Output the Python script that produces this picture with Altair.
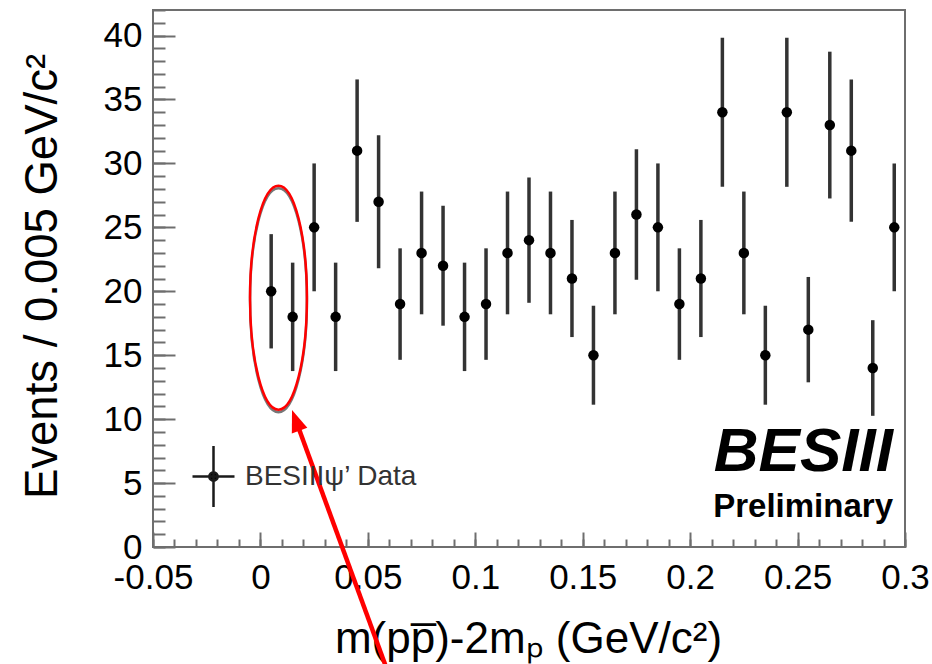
import altair as alt
import pandas as pd

# ---------------- data ----------------
bin_centers = [0.005, 0.015, 0.025, 0.035, 0.045, 0.055, 0.065, 0.075, 0.085, 0.095,
               0.105, 0.115, 0.125, 0.135, 0.145, 0.155, 0.165, 0.175, 0.185, 0.195,
               0.205, 0.215, 0.225, 0.235, 0.245, 0.255, 0.265, 0.275, 0.285, 0.295]
counts = [20, 18, 25, 18, 31, 27, 19, 23, 22, 18,
          19, 23, 24, 23, 21, 15, 23, 26, 25, 19,
          21, 34, 23, 15, 34, 17, 33, 31, 14, 25]
errors = [4.47, 4.24, 5.00, 4.24, 5.57, 5.20, 4.36, 4.80, 4.69, 4.24,
          4.36, 4.80, 4.90, 4.80, 4.58, 3.87, 4.80, 5.10, 5.00, 4.36,
          4.58, 5.83, 4.80, 3.87, 5.83, 4.12, 5.74, 5.57, 3.74, 5.00]
series_name = "BESIII\u03c8\u2019 Data"

x_major = [-0.05, 0, 0.05, 0.1, 0.15, 0.2, 0.25, 0.3]
x_minor = [round(-0.05 + 0.01 * i, 2) for i in range(36)]
y_major = [0, 5, 10, 15, 20, 25, 30, 35, 40]
y_minor = list(range(0, 43))

x_title = "m(pp\u0305)-2m\u209a (GeV/c\u00b2)"
y_title = "Events / 0.005 GeV/c\u00b2"
stamp_texts = ["BESIII"]
prelim_texts = ["Preliminary"]

# annotation anchors (data units)
ellipse_center = {"x": [0.0084], "y": [19.5]}
arrow_line = {"x": [0.0598], "y": [-10.0], "x2": [0.01646], "y2": [9.91]}
arrow_head = {"x": [0.01646], "y": [9.91]}

df = pd.DataFrame({
    "x": bin_centers,
    "y": counts,
    "lo": [c - e for c, e in zip(counts, errors)],
    "hi": [c + e for c, e in zip(counts, errors)],
    "series": [series_name] * len(counts),
})

FONT = "Liberation Sans"
FRAME = "#6e6e6e"

xs = alt.Scale(domain=[-0.05, 0.3], nice=False, zero=False)
ys = alt.Scale(domain=[0, 42], nice=False, zero=False)

base = alt.Chart(df)

# error bars + labelled axes
label_x_axis = alt.Axis(values=x_major, labelExpr="'' + datum.value", ticks=False, tickSize=0,
                        domain=False, grid=False, labelFont=FONT, labelFontSize=35,
                        labelColor="black", labelPadding=13, labelFlush=False,
                        labelOverlap=False, title=x_title, titleFont=FONT, titleFontSize=44,
                        titleFontWeight="normal", titleColor="black", titleX=375,
                        titleY=105, titleBaseline="alphabetic", orient="bottom")
label_y_axis = alt.Axis(values=y_major, ticks=False, tickSize=0, domain=False, grid=False,
                        labelFont=FONT, labelFontSize=35, labelColor="black",
                        labelPadding=11, labelFlush=False, labelOverlap=False,
                        title=y_title, titleFont=FONT, titleFontSize=45.5,
                        titleFontWeight="normal", titleColor="black", titleX=-87,
                        titleY=266, orient="left")

bars = base.mark_rule(strokeWidth=3.5, color="#333333").encode(
    x=alt.X("x:Q", scale=xs, axis=label_x_axis),
    y=alt.Y("lo:Q", scale=ys, axis=label_y_axis),
    y2="hi:Q",
)

def tick_axis(vals, size, orient):
    return alt.Axis(values=vals, labels=False, domain=False, grid=False, ticks=True,
                    tickSize=size, offset=-size, tickColor=FRAME, tickWidth=2,
                    title=None, orient=orient)

major_ticks = base.mark_point(opacity=0).encode(
    x=alt.X("x:Q", scale=xs, axis=tick_axis(x_major, 15, "bottom")),
    y=alt.Y("y:Q", scale=ys, axis=tick_axis(y_major, 22, "left")),
)
minor_ticks = base.mark_point(opacity=0).encode(
    x=alt.X("x:Q", scale=xs, axis=tick_axis(x_minor, 8, "bottom")),
    y=alt.Y("y:Q", scale=ys, axis=tick_axis(y_minor, 12, "left")),
)

legend_path = "M-1,0L1,0M0,-1.45L0,1.45M0.2,0A0.2,0.2 0 1,1 -0.2,0A0.2,0.2 0 1,1 0.2,0Z"
dots = base.mark_point(filled=True, size=110, opacity=1).encode(
    x=alt.X("x:Q", scale=xs, axis=None),
    y=alt.Y("y:Q", scale=ys, axis=None),
    color=alt.Color("series:N", scale=alt.Scale(domain=[series_name], range=["black"]),
                    legend=alt.Legend(title=None, orient="none", legendX=38, legendY=444,
                                      padding=0, symbolType=legend_path, symbolSize=1764,
                                      symbolStrokeColor="#1a1a1a", symbolStrokeWidth=2.5,
                                      symbolFillColor="#1a1a1a",
                                      labelFont=FONT, labelFontSize=28, labelColor="#333333",
                                      labelOffset=9, labelLimit=400)),
)

ell_df = pd.DataFrame(ellipse_center)
ellipse_path = "M0,-1A0.254,1 0 1,1 0,1A0.254,1 0 1,1 0,-1Z"
ell_grey = alt.Chart(ell_df).mark_point(shape=ellipse_path, size=50176, filled=False,
                                        stroke="#777777", strokeWidth=2.5, yOffset=2.5,
                                        opacity=1).encode(
    x=alt.X("x:Q", scale=xs, axis=None), y=alt.Y("y:Q", scale=ys, axis=None))
ell_red = alt.Chart(ell_df).mark_point(shape=ellipse_path, size=50176, filled=False,
                                       stroke="#ff0000", strokeWidth=2.5, opacity=1).encode(
    x=alt.X("x:Q", scale=xs, axis=None), y=alt.Y("y:Q", scale=ys, axis=None))

arrow = alt.Chart(pd.DataFrame(arrow_line)).mark_rule(color="#ff0000", strokeWidth=4.5).encode(
    x=alt.X("x:Q", scale=xs, axis=None), y=alt.Y("y:Q", scale=ys, axis=None),
    x2="x2:Q", y2="y2:Q")
head = alt.Chart(pd.DataFrame(arrow_head)).mark_point(
    shape="M0,-1L-0.75,1L0.75,1Z", size=484, filled=True, color="#ff0000",
    angle=339.9, opacity=1).encode(
    x=alt.X("x:Q", scale=xs, axis=None), y=alt.Y("y:Q", scale=ys, axis=None))

stamp = alt.Chart(pd.DataFrame({"t": stamp_texts})).mark_text(
    font=FONT, fontSize=62, fontWeight="bold", fontStyle="italic", align="right",
    baseline="alphabetic", color="black").encode(
    text="t:N", x=alt.value(740), y=alt.value(461))
prelim = alt.Chart(pd.DataFrame({"t": prelim_texts})).mark_text(
    font=FONT, fontSize=33, fontWeight="bold", align="right",
    baseline="alphabetic", color="black").encode(
    text="t:N", x=alt.value(740), y=alt.value(507))

chart = alt.layer(
    bars, major_ticks, minor_ticks, dots, ell_grey, ell_red, arrow, head, stamp, prelim
).resolve_axis(x="independent", y="independent").properties(
    width=752, height=537,
    autosize=alt.AutoSizeParams(type="none"),
    padding={"left": 153, "top": 10, "right": 27, "bottom": 117},
    background="white",
).configure_view(stroke=FRAME, strokeWidth=2)

chart.save("out.html", embed_options={"renderer": "svg", "actions": False})
